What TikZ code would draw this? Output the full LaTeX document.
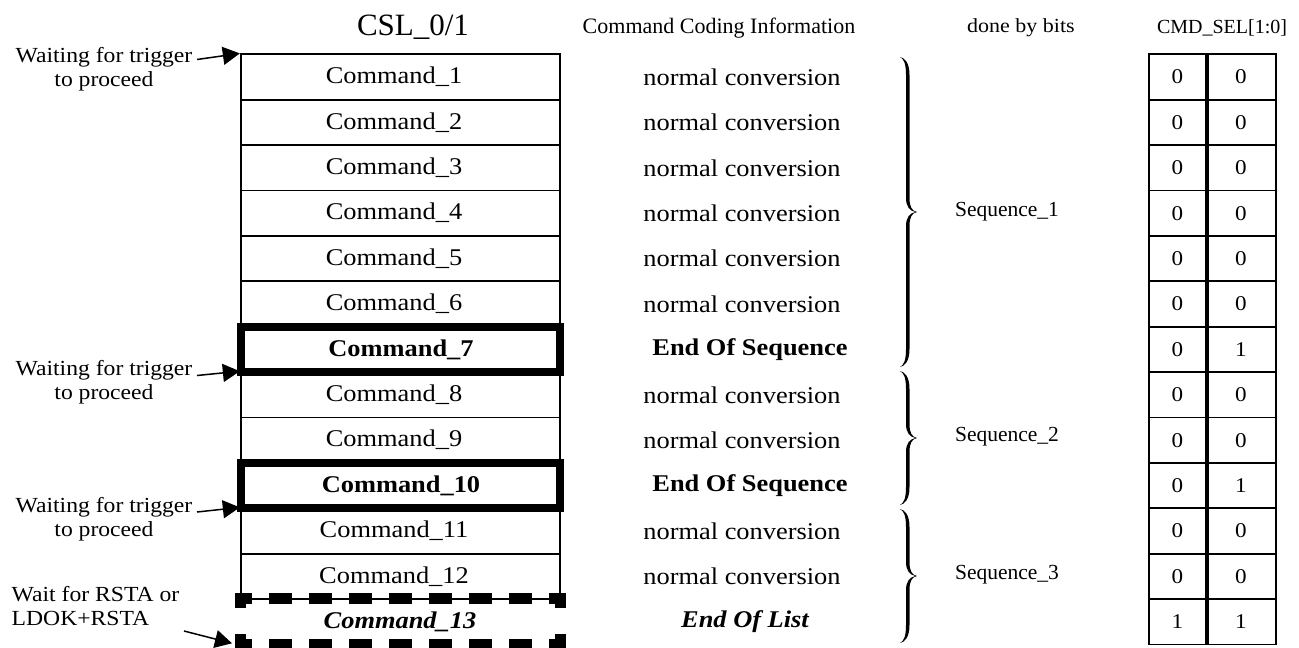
\documentclass[tikz,border=0pt]{standalone}
\usepackage{fontspec}
\setmainfont{Liberation Serif}
\newfontfamily\bodyf[FakeStretch=1.1]{Liberation Serif}
\usetikzlibrary{arrows.meta}
\newcommand{\fsz}[1]{\fontsize{#1}{#1}\selectfont}
\newcommand{\tbrace}[3]{%
  \pgfmathsetmacro\bm{(#2+#3)/2}%
  \fill (#1,#2) .. controls (#1+5,#2+1) and (#1+9.5,#2+6) .. (#1+9.5,#2+18)
    -- (#1+9.5,\bm-14) .. controls (#1+9.5,\bm-5) and (#1+12,\bm-1) .. (#1+17,\bm)
    .. controls (#1+12,\bm+1) and (#1+9.5,\bm+5) .. (#1+9.5,\bm+14)
    -- (#1+9.5,#3-18) .. controls (#1+9.5,#3-6) and (#1+5,#3-1) .. (#1,#3)
    .. controls (#1+4,#3-2) and (#1+6,#3-7) .. (#1+6,#3-18)
    -- (#1+6,\bm+14) .. controls (#1+6,\bm+5) and (#1+10,\bm+1) .. (#1+15.5,\bm)
    .. controls (#1+10,\bm-1) and (#1+6,\bm-5) .. (#1+6,\bm-14)
    -- (#1+6,#2+18) .. controls (#1+6,#2+7) and (#1+4,#2+2) .. (#1,#2) -- cycle;}
\begin{document}
\begin{tikzpicture}[x=1pt,y=-1pt,
  cell/.style={draw, line width=1.8pt, minimum width=319.5pt, minimum height=45.4pt, inner sep=0pt},
  boldcell/.style={cell, line width=8pt},
  nocell/.style={minimum width=319.5pt, minimum height=45.4pt, inner sep=0pt},
  selcell/.style={draw, line width=1.8pt, minimum height=45.4pt, inner sep=0pt, font=\bodyf\fsz{21}},
  txt/.style={inner sep=0pt, font=\bodyf\fsz{24}},
  hdr/.style={inner sep=0pt},
  lbl/.style={inner sep=0pt, font=\bodyf\fontsize{21.5}{24}\selectfont},
  dashpart/.style={line width=11pt, line cap=rect},
  arr/.style={line width=1.5pt, -{Triangle[length=17pt,width=18pt]}},
  seq/.style={inner sep=0pt, font=\fsz{21.5}}]
\useasboundingbox (0,0) rectangle (1299,648);

% headers
\node[hdr, font=\fsz{31}] (h1) at (413,27) {CSL\_0/1};
\node[hdr, font=\fsz{22}] (h2) at (719,28) {Command Coding Information};
\node[hdr, font=\bodyf\fsz{20}] (h3) at (1021,28) {done by bits};
\node[hdr, font=\fsz{20}] (h4) at (1222,28) {CMD\_SEL[1:0]};

% command table
\foreach \k in {1,...,6,8,9,11,12} {
  \node[cell] (r\k) at (400.5,{31.6+45.4*\k}) {};
  \node[txt] (t\k) at (394,{31.6+45.4*\k}) {Command\_\k};
  \node[txt] (c\k) at (742,{31.6+45.4*\k}) {normal conversion};
}
\foreach \k in {7,10} {
  \node[boldcell] (r\k) at (400.5,{31.6+45.4*\k}) {};
  \node[txt, font=\bodyf\fsz{24}\bfseries] (t\k) at (401,{31.6+45.4*\k}) {Command\_\k};
  \node[txt, font=\bodyf\fsz{24}\bfseries] (c\k) at (750,{31.6+45.4*\k}) {End Of Sequence};
}
\node[nocell] (r13) at (400.5,621.8) {};
\node[txt, font=\bodyf\fsz{24}\bfseries\itshape] (t13) at (400,621.8) {Command\_13};
\node[txt, font=\bodyf\fsz{24}\bfseries\itshape] (c13) at (745,621.8) {End Of List};

% dashed box of Command_13
\draw[dashpart, dash pattern=on 11.7pt off 28.3pt, dash phase=6pt] (r13.north west) -- (r13.north east);
\draw[dashpart, dash pattern=on 11.7pt off 28.3pt, dash phase=6pt] (r13.south west) -- (r13.south east);
\draw[dashpart, dash pattern=on 4pt off 37pt] (r13.north west) -- (r13.south west);
\draw[dashpart, dash pattern=on 4pt off 37pt] (r13.north east) -- (r13.south east);

% left labels
\node[lbl, align=center] (w1) at (104,69.5) {Waiting for trigger\\to proceed};
\node[lbl, align=center] (w2) at (104,382.5) {Waiting for trigger\\to proceed};
\node[lbl, align=center] (w3) at (104,519.5) {Waiting for trigger\\to proceed};
\node[lbl, align=left, anchor=west] (w4) at (11.5,606.5) {Wait for RSTA or\\LDOK+RSTA};
\coordinate (a1) at (197,59.5);
\coordinate (a2) at (197,375.5);
\coordinate (a3) at (197,512);
\coordinate (a4) at (184,631);
\coordinate (e4) at (232,643.3);
\draw[arr] (a1) -- (r1.north west);
\draw[arr] (a2) -- (r8.north west);
\draw[arr] (a3) -- (r11.north west);
\draw[arr] (a4) -- (e4);

% braces
\tbrace{900}{57}{367}
\tbrace{900}{371}{505}
\tbrace{900}{509}{643}
\node[seq] (q1) at (1007,212) {Sequence\_1};
\node[seq] (q2) at (1007,437) {Sequence\_2};
\node[seq] (q3) at (1007,575) {Sequence\_3};

% CMD_SEL table
\foreach \k/\a/\b in {1/0/0,2/0/0,3/0/0,4/0/0,5/0/0,6/0/0,7/0/1,8/0/0,9/0/0,10/0/1,11/0/0,12/0/0,13/1/1} {
  \node[selcell, minimum width=57pt] (s\k a) at (1177.5,{31.6+45.4*\k}) {\a};
  \node[selcell, minimum width=70pt] (s\k b) at (1241,{31.6+45.4*\k}) {\b};
}
\draw[line width=4pt] (s1a.north east) -- (s13a.south east);
\end{tikzpicture}
\end{document}
